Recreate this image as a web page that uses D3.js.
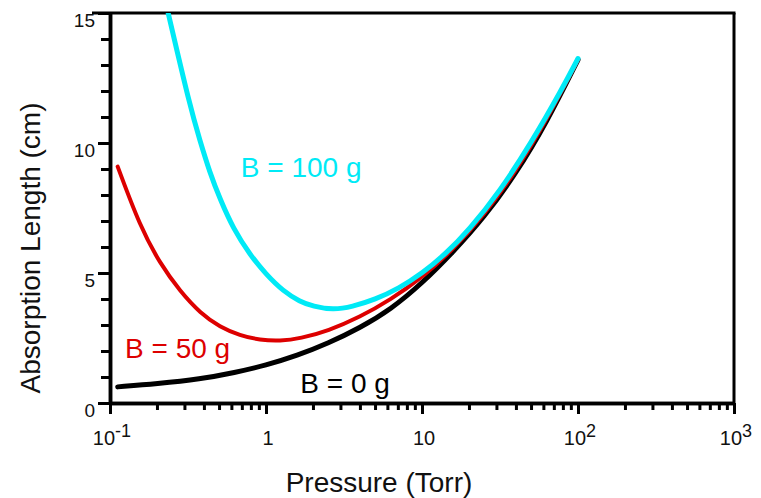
<!DOCTYPE html>
<html>
<head>
<meta charset="utf-8">
<script src="https://cdn.jsdelivr.net/npm/d3@7"></script>
<style>
  body { margin: 0; background: #fff; }
  svg { display: block; font-family: "Liberation Sans", Arial, sans-serif; }
</style>
</head>
<body>
<script>
// values (pressure in Torr, absorption length in cm)
var pB0   = [0.112, 0.2, 0.38, 0.63, 1, 1.58, 2.51, 3.98, 6.31, 10, 15.8, 25.1, 39.8, 63.1, 100];
var lenB0 = [0.62, 0.74, 0.92, 1.17, 1.45, 1.82, 2.3, 2.88, 3.6, 4.6, 5.8, 7.15, 8.8, 10.8, 13.2];

var pB50   = [0.112, 0.156, 0.209, 0.281, 0.38, 0.507, 0.68, 0.916, 1.23, 1.66, 2.51, 3.98, 6.31, 10, 15.8, 25.1, 39.8, 63.1, 100];
var lenB50 = [9.09, 6.78, 5.37, 4.3, 3.45, 2.92, 2.6, 2.42, 2.38, 2.48, 2.78, 3.3, 3.98, 4.82, 5.9, 7.25, 8.9, 10.9, 13.2];

var pB100   = [0.236, 0.326, 0.377, 0.437, 0.507, 0.617, 0.79, 1, 1.29, 1.65, 2, 2.7, 3.55, 5.01, 7.08, 10, 14.1, 20, 31.6, 50.1, 79.4, 100];
var lenB100 = [15, 11.4, 10.1, 8.85, 7.85, 6.7, 5.7, 4.95, 4.3, 3.9, 3.72, 3.58, 3.7, 3.98, 4.4, 4.98, 5.72, 6.65, 8.15, 10.0, 12.1, 13.25];

var xMajor = [0.1, 1, 10, 100, 1000];
var xLabels = [["10", "-1"], ["1", ""], ["10", ""], ["10", "2"], ["10", "3"]];
var yMajor = [0, 5, 10, 15];
var yMinor = d3.range(0, 16);

var W = 761, H = 498;

var svg = d3.select("body").append("svg")
  .attr("width", W)
  .attr("height", H);

var x = d3.scaleLog().domain([0.1, 1000]).range([110, 734]);
var y = d3.scaleLinear().domain([0, 15]).range([403, 13]);

// minor log ticks 2..9 per decade
var xMinor = [];
xMajor.slice(0, -1).forEach(function(d) {
  for (var k = 2; k <= 9; k++) xMinor.push(d * k);
});

svg.append("clipPath").attr("id", "plot")
  .append("rect")
  .attr("x", x.range()[0]).attr("y", y.range()[1])
  .attr("width", x.range()[1] - x.range()[0])
  .attr("height", y.range()[0] - y.range()[1]);

// x ticks
var gx = svg.append("g").attr("transform", "translate(0," + y(0) + ")");
gx.append("g").call(d3.axisBottom(x).tickValues(xMinor).tickSize(7).tickSizeOuter(0).tickFormat(""));
gx.append("g").call(d3.axisBottom(x).tickValues(xMajor).tickSize(11).tickSizeOuter(0).tickFormat(""));

// y ticks
var gy = svg.append("g").attr("transform", "translate(" + x(0.1) + ",0)");
gy.append("g").call(d3.axisLeft(y).tickValues(yMinor).tickSize(9).tickSizeOuter(0).tickFormat(""));
gy.append("g").call(d3.axisLeft(y).tickValues(yMajor).tickSize(12).tickSizeOuter(0).tickFormat(""));

svg.selectAll(".domain, .tick line")
  .attr("stroke", "#000")
  .attr("stroke-width", 3);
svg.selectAll(".domain").attr("stroke-width", 3.5);

// frame top and right
svg.append("line")
  .attr("x1", x(0.1) - 18).attr("x2", x(1000) + 1.5)
  .attr("y1", y(15)).attr("y2", y(15))
  .attr("stroke", "#000").attr("stroke-width", 3);
svg.append("line")
  .attr("x1", x(1000)).attr("x2", x(1000))
  .attr("y1", y(15)).attr("y2", y(0))
  .attr("stroke", "#000").attr("stroke-width", 3);

// x tick labels
var xl = svg.append("g").selectAll("text")
  .data(xMajor)
  .enter().append("text")
  .attr("x", function(d) { return x(d) + 2; })
  .attr("y", 445)
  .attr("text-anchor", "middle")
  .attr("font-size", 20)
  .attr("fill", "#111");
xl.append("tspan").text(function(d, i) { return xLabels[i][0]; });
xl.append("tspan")
  .attr("dy", -8)
  .attr("font-size", 18)
  .text(function(d, i) { return xLabels[i][1]; });

// y tick labels
svg.append("g").selectAll("text")
  .data(yMajor)
  .enter().append("text")
  .attr("x", 95)
  .attr("y", function(d) { return y(d) + 14; })
  .attr("text-anchor", "end")
  .attr("font-size", 19)
  .attr("fill", "#111")
  .text(function(d) { return d; });

// axis titles
svg.append("text")
  .attr("x", 379).attr("y", 492)
  .attr("text-anchor", "middle")
  .attr("font-size", 28)
  .attr("fill", "#111")
  .text("Pressure (Torr)");

svg.append("text")
  .attr("transform", "translate(40,248) rotate(-90)")
  .attr("text-anchor", "middle")
  .attr("font-size", 28)
  .attr("fill", "#111")
  .text("Absorption Length (cm)");

// curves (basis spline to smooth out reading noise)
var line = d3.line()
  .x(function(d) { return x(d[0]); })
  .y(function(d) { return y(d[1]); })
  .curve(d3.curveBasis);

var series = [
  { p: pB0,   v: lenB0,   color: "#000000", w: 5 },
  { p: pB50,  v: lenB50,  color: "#dd0000", w: 4 },
  { p: pB100, v: lenB100, color: "#00eaf6", w: 5 }
];

svg.append("g").attr("clip-path", "url(#plot)")
  .selectAll("path")
  .data(series)
  .enter().append("path")
  .attr("fill", "none")
  .attr("stroke", function(d) { return d.color; })
  .attr("stroke-width", function(d) { return d.w; })
  .attr("stroke-linecap", "round")
  .attr("d", function(d) { return line(d.p.map(function(p, i) { return [p, d.v[i]]; })); });

// series labels
var labels = [
  { text: "B = 100 g", px: 0.69,  py: 8.69, color: "#00eaf6" },
  { text: "B = 50 g",  px: 0.125, py: 1.73, color: "#dd0000" },
  { text: "B = 0 g",   px: 1.66,  py: 0.37, color: "#000000" }
];
svg.append("g").selectAll("text")
  .data(labels)
  .enter().append("text")
  .attr("x", function(d) { return x(d.px); })
  .attr("y", function(d) { return y(d.py); })
  .attr("font-size", 28)
  .attr("fill", function(d) { return d.color; })
  .text(function(d) { return d.text; });
</script>
</body>
</html>
